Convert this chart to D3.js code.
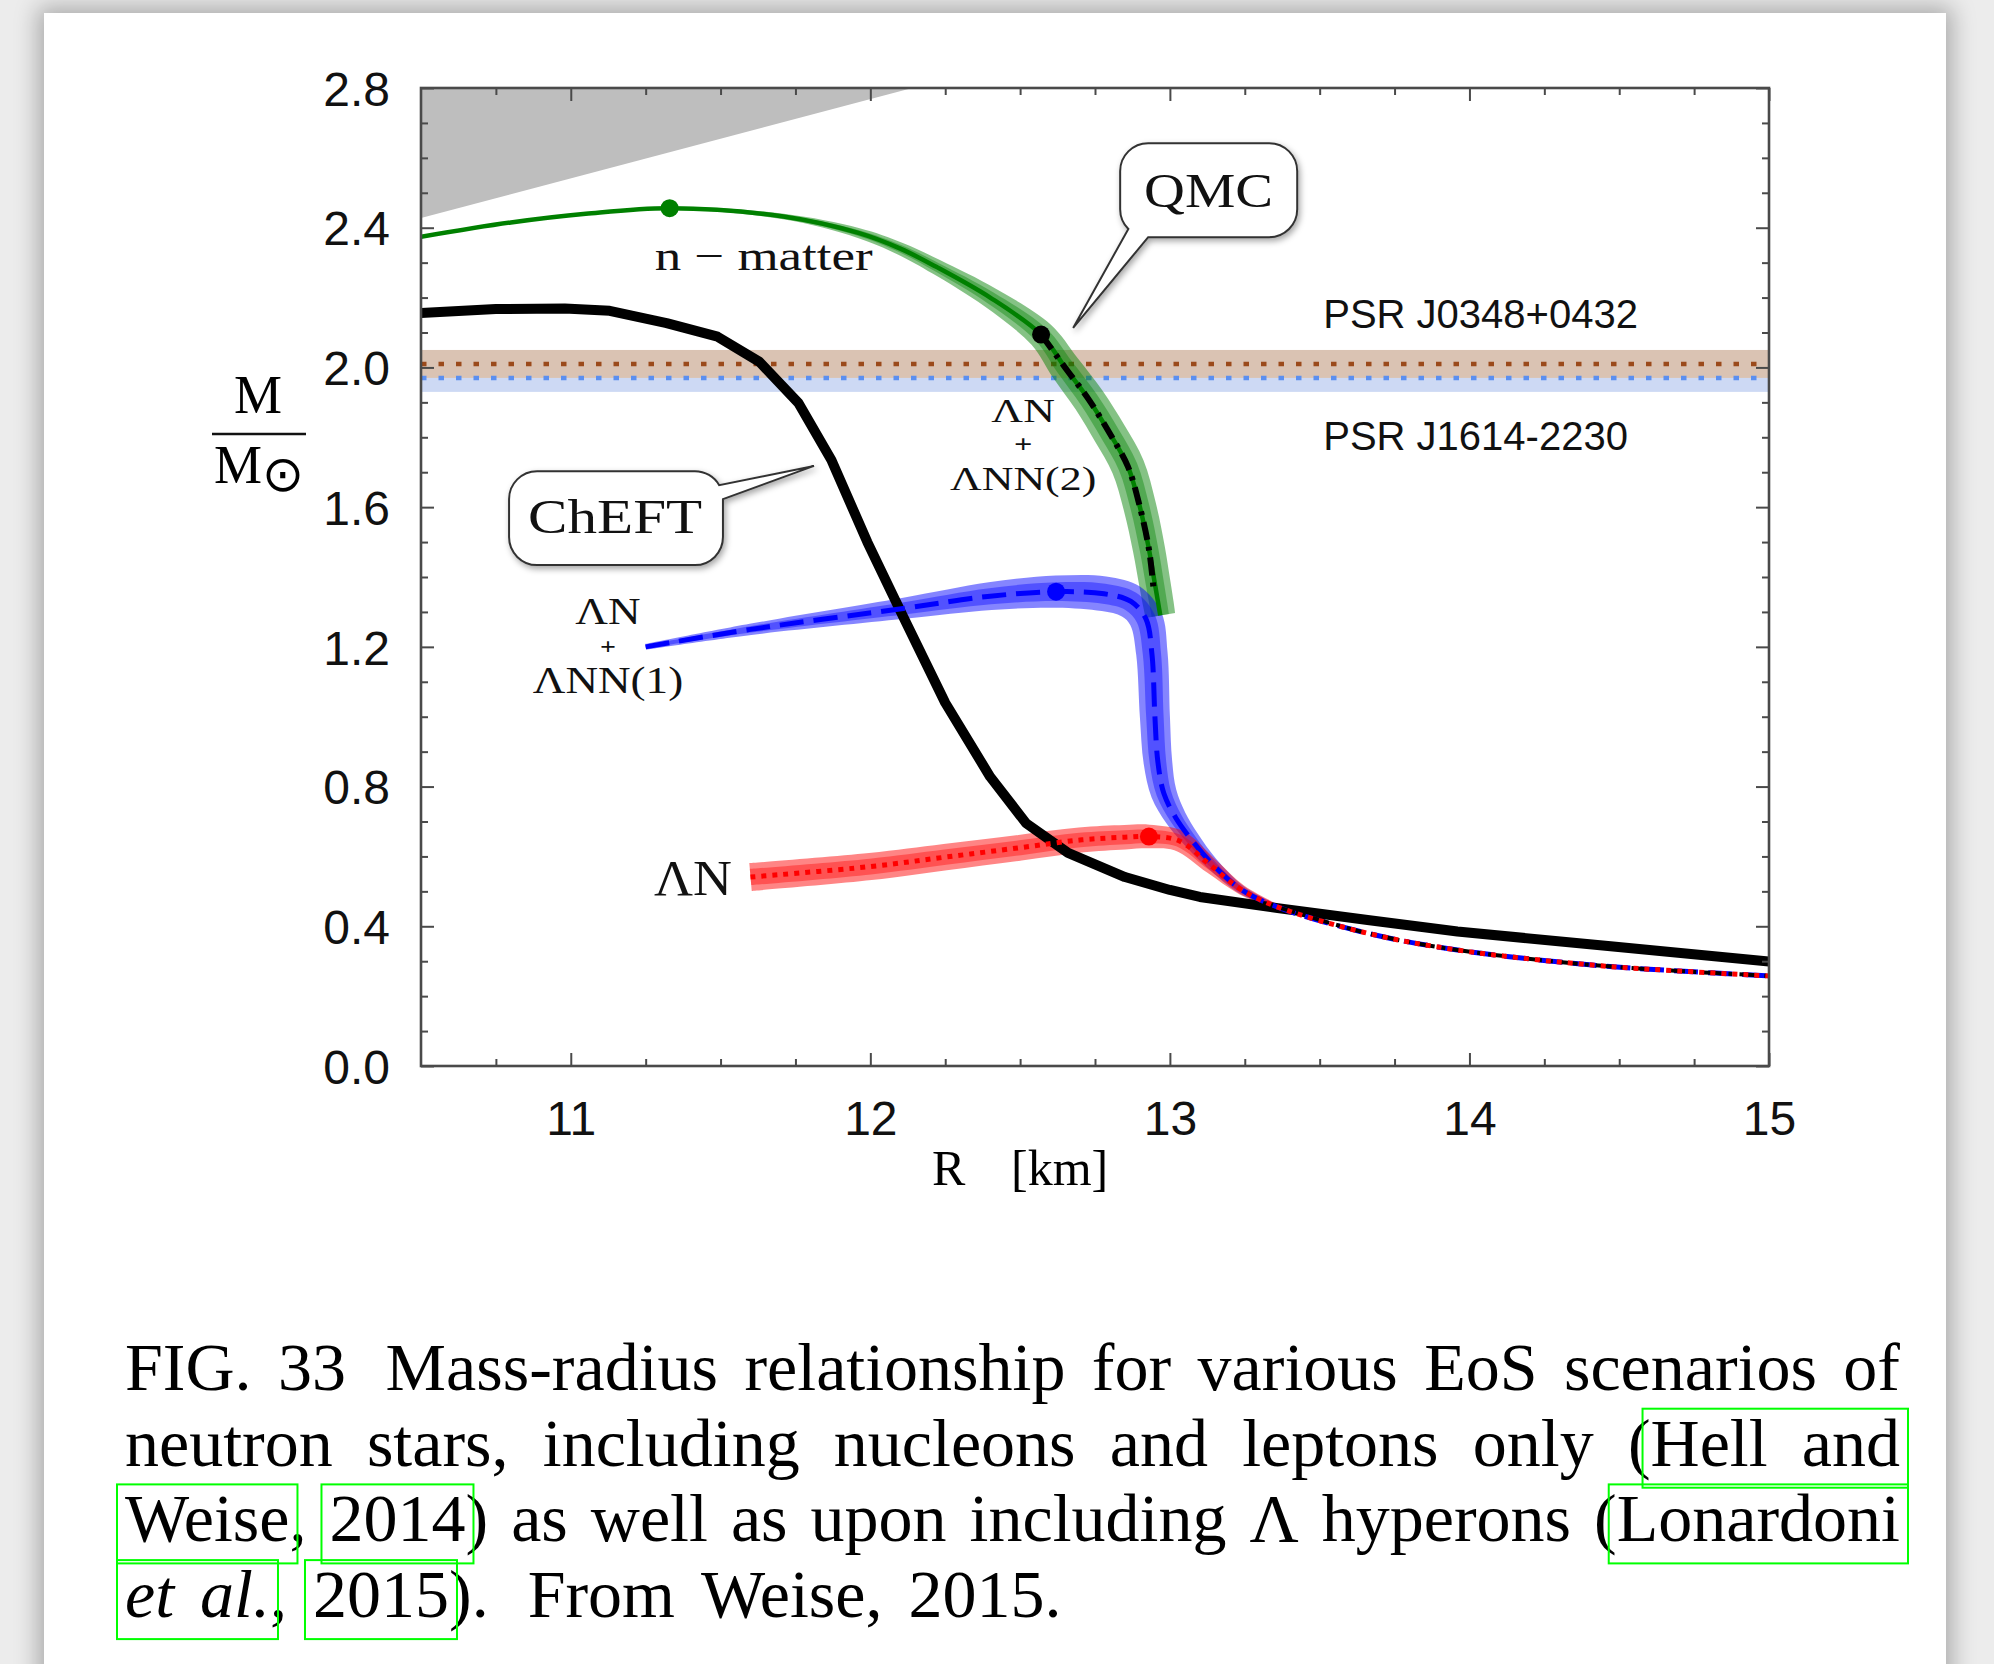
<!DOCTYPE html>
<html><head><meta charset="utf-8">
<script src="https://cdn.jsdelivr.net/npm/d3@7"></script>
<style>
html,body{margin:0;padding:0;width:1994px;height:1664px;overflow:hidden;background:#ececec;}
#card{position:absolute;left:44px;top:13px;width:1902px;height:1720px;background:#fff;box-shadow:0 0 22px 6px rgba(0,0,0,0.28);}
svg{position:absolute;left:0;top:0;}
</style></head>
<body><div id="card"></div><svg id="chart" width="1994" height="1664"></svg>
<script>
// ---------------- data ----------------
const xTickValues = [11, 12, 13, 14, 15];
const xTickLabels = ["11", "12", "13", "14", "15"];
const yTickValues = [0, 0.4, 0.8, 1.2, 1.6, 2.0, 2.4, 2.8];
const yTickLabels = ["0.0", "0.4", "0.8", "1.2", "1.6", "2.0", "2.4", "2.8"];

// causality-excluded region (upper left)
const causalR = [10.5, 12.14];
const causalM = [2.428, 2.8];

// pulsar mass constraints
const psrNames = ["PSR J0348+0432", "PSR J1614-2230"];
const psrMass = [2.01, 1.97];
const psrErr = [0.04, 0.04];

// ChEFT (black)
const chiR = [10.5, 10.75, 10.98, 11.13, 11.32, 11.49, 11.63, 11.76, 11.87, 11.99, 12.11, 12.25, 12.40, 12.52, 12.66, 12.85, 13.0, 13.1, 13.36, 13.66, 13.96, 14.48, 15.0];
const chiM = [2.156, 2.167, 2.169, 2.162, 2.127, 2.088, 2.016, 1.898, 1.735, 1.50, 1.286, 1.04, 0.828, 0.695, 0.61, 0.541, 0.504, 0.484, 0.452, 0.418, 0.385, 0.342, 0.299];

// QMC n-matter (green) with uncertainty band (solar masses)
const nmR = [10.5, 10.8, 11.05, 11.33, 11.71, 11.96, 12.1, 12.22, 12.40, 12.57, 12.65, 12.73, 12.8, 12.86, 12.9, 12.93, 12.95, 12.962, 12.968];
const nmM = [2.374, 2.415, 2.44, 2.456, 2.432, 2.385, 2.34, 2.288, 2.20, 2.094, 2.0, 1.907, 1.81, 1.716, 1.6, 1.48, 1.38, 1.32, 1.29];
const nmErr = [0, 0, 0.002, 0.004, 0.008, 0.014, 0.018, 0.022, 0.03, 0.04, 0.045, 0.047, 0.048, 0.048, 0.047, 0.046, 0.045, 0.044, 0.043];

// Lambda N + Lambda NN (2) (black dash-dot), upper branch
const h2R = [12.57, 12.65, 12.73, 12.8, 12.86, 12.9, 12.93, 12.945];
const h2M = [2.094, 2.0, 1.907, 1.81, 1.716, 1.6, 1.48, 1.37];

// Lambda N + Lambda NN (1) (blue)
const h1R = [11.25, 11.6, 12.11, 12.4, 12.62, 12.78, 12.87, 12.92, 12.94, 12.95, 12.96, 12.98, 13.02, 13.07, 13.14, 13.24, 13.36];
const h1M = [1.20, 1.25, 1.31, 1.345, 1.358, 1.352, 1.33, 1.28, 1.18, 1.0, 0.87, 0.78, 0.71, 0.65, 0.58, 0.504, 0.455];
const h1Err = [0.008, 0.016, 0.03, 0.04, 0.046, 0.05, 0.05, 0.048, 0.045, 0.043, 0.041, 0.037, 0.031, 0.025, 0.018, 0.012, 0.006];

// Lambda N (red)
const lnR = [11.6, 12.0, 12.25, 12.5, 12.7, 12.85, 12.93, 13.03, 13.14, 13.24, 13.36];
const lnM = [0.541, 0.571, 0.598, 0.625, 0.647, 0.655, 0.657, 0.645, 0.571, 0.504, 0.455];
const lnErr = [0.04, 0.039, 0.038, 0.037, 0.036, 0.035, 0.034, 0.03, 0.022, 0.014, 0.007];

// common low-mass branch of the hyperon curves
const tailR = [13.36, 13.66, 13.96, 14.41, 14.7, 15.0];
const tailM = [0.455, 0.38, 0.332, 0.289, 0.272, 0.258];

// maximum-mass markers
const markR = [11.33, 12.57, 12.62, 12.93];
const markM = [2.456, 2.094, 1.358, 0.657];

const captionLines = [
  "FIG. 33  Mass-radius relationship for various EoS scenarios of",
  "neutron stars, including nucleons and leptons only ({a|Hell} {a|and}",
  "{b|Weise}, {c|2014}) as well as upon including \u039B hyperons ({d|Lonardoni}",
  "{e_|et} {e_|al.}, {f|2015}).  From Weise, 2015."
];

// ---------------- layout ----------------
const plot = {left: 421, right: 1769, top: 88, bottom: 1066};
const serif = "'Liberation Serif','Times New Roman',serif";
const sans = "'Liberation Sans',Arial,Helvetica,sans-serif";

const x = d3.scaleLinear().domain([10.5, 15]).range([plot.left, plot.right]);
const y = d3.scaleLinear().domain([0, 2.8]).range([plot.bottom, plot.top]);

const svg = d3.select("#chart");
const defs = svg.append("defs");
defs.append("clipPath").attr("id", "plotClip").append("rect")
  .attr("x", plot.left).attr("y", plot.top)
  .attr("width", plot.right - plot.left).attr("height", plot.bottom - plot.top);
const sh = defs.append("filter").attr("id", "shadow")
  .attr("x", "-20%").attr("y", "-20%").attr("width", "150%").attr("height", "150%");
sh.append("feDropShadow").attr("dx", 2).attr("dy", 3).attr("stdDeviation", 3)
  .attr("flood-color", "#000").attr("flood-opacity", 0.35);

const g = svg.append("g").attr("clip-path", "url(#plotClip)");

const zip = (R, M) => R.map((r, i) => [r, M[i]]);
const px = (R, M) => R.map((r, i) => [x(r), y(M[i])]);
const smooth = d3.line().curve(d3.curveCatmullRom.alpha(0.5));
const straight = d3.line();

function bandPath(R, M, E, frac) {
  const pts = px(R, M);
  const left = [], right = [];
  for (let i = 0; i < pts.length; i++) {
    const a = pts[Math.max(0, i - 1)], b = pts[Math.min(pts.length - 1, i + 1)];
    let tx = b[0] - a[0], ty = b[1] - a[1];
    const L = Math.hypot(tx, ty) || 1; tx /= L; ty /= L;
    const nx = -ty, ny = tx;
    const h = (y(0) - y(E[i])) * frac;
    left.push([pts[i][0] + nx * h, pts[i][1] + ny * h]);
    right.push([pts[i][0] - nx * h, pts[i][1] - ny * h]);
  }
  return smooth(left) + smooth(right.reverse()).replace(/^M/, "L") + "Z";
}

// causality region
g.append("path")
  .attr("d", d3.area().x(d => x(d[0])).y0(y(2.8)).y1(d => y(d[1]))(zip(causalR, causalM)))
  .attr("fill", "#bebebe");

// pulsar bands
const psrFill = ["#dac3b3", "#cdd9f4"];
const psrDot = ["#9b4a1b", "#5b8ff0"];
[1, 0].forEach(i => {
  g.append("rect").attr("x", plot.left).attr("width", plot.right - plot.left)
    .attr("y", y(psrMass[i] + psrErr[i]))
    .attr("height", y(psrMass[i] - psrErr[i]) - y(psrMass[i] + psrErr[i]))
    .attr("fill", psrFill[i]);
});
[0, 1].forEach(i => {
  g.append("path").attr("d", straight([[x(10.5), y(psrMass[i])], [x(15), y(psrMass[i])]]))
    .attr("stroke", psrDot[i]).attr("stroke-width", 4.5).attr("stroke-dasharray", "5.5,12")
    .attr("fill", "none");
});

// uncertainty bands
const bands = [
  {R: nmR, M: nmM, E: nmErr, c: "0,128,0"},
  {R: h1R, M: h1M, E: h1Err, c: "0,0,255"},
  {R: lnR, M: lnM, E: lnErr, c: "255,0,0"}
];
bands.forEach(b => {
  g.append("path").attr("d", bandPath(b.R, b.M, b.E, 1)).attr("fill", `rgba(${b.c},0.48)`);
  g.append("path").attr("d", bandPath(b.R, b.M, b.E, 0.58)).attr("fill", `rgba(${b.c},0.38)`);
});

// ChEFT
g.append("path").attr("d", straight(px(chiR, chiM)))
  .attr("stroke", "#000").attr("stroke-width", 10).attr("fill", "none")
  .attr("stroke-linejoin", "round");

// n-matter line
g.append("path").attr("d", smooth(px(nmR, nmM)))
  .attr("stroke", "#008000").attr("stroke-width", 4.5).attr("fill", "none");

// hyperon centre lines
const h1Full = px(h1R.concat(tailR.slice(1)), h1M.concat(tailM.slice(1)));
const lnFull = px(lnR.concat(tailR.slice(1)), lnM.concat(tailM.slice(1)));
g.append("path").attr("d", smooth(h1Full))
  .attr("stroke", "#0000ff").attr("stroke-width", 5).attr("stroke-dasharray", "24,10").attr("fill", "none");
g.append("path").attr("d", smooth(px(h2R, h2M)))
  .attr("stroke", "#000").attr("stroke-width", 6).attr("stroke-dasharray", "18,7,4,7").attr("fill", "none");
g.append("path").attr("d", smooth(px(tailR, tailM)))
  .attr("stroke", "#000").attr("stroke-width", 4).attr("stroke-dasharray", "18,7,4,7").attr("fill", "none");
g.append("path").attr("d", smooth(lnFull))
  .attr("stroke", "#ff0000").attr("stroke-width", 5).attr("stroke-dasharray", "5,6").attr("fill", "none");

// markers
const markColor = ["#008000", "#000000", "#0000ff", "#ff0000"];
g.selectAll("circle.mark").data(zip(markR, markM)).join("circle")
  .attr("cx", d => x(d[0])).attr("cy", d => y(d[1])).attr("r", 9)
  .attr("fill", (d, i) => markColor[i]);

// ---------------- axes ----------------
const axisColor = "#4a4a4a";
const xMinor = d3.range(10.75, 15.001, 0.25).filter(v => Math.abs(v - Math.round(v)) > 1e-6);
const yMinor = d3.range(0, 28.5, 1).map(v => v / 10).filter(v => Math.abs(v * 2.5 - Math.round(v * 2.5)) > 1e-6);

function styleAxis(sel) {
  sel.select(".domain").remove();
  sel.selectAll(".tick line").attr("stroke", axisColor).attr("stroke-width", 2);
  sel.attr("font-family", sans).attr("font-size", 48);
  sel.selectAll("text").attr("fill", "#111");
}
svg.append("g").attr("transform", `translate(0,${plot.bottom})`)
  .call(d3.axisBottom(x).tickValues(xTickValues).tickSizeInner(-13).tickSizeOuter(0).tickPadding(35)
    .tickFormat(d => xTickLabels[xTickValues.indexOf(d)])).call(styleAxis);
svg.append("g").attr("transform", `translate(0,${plot.bottom})`)
  .call(d3.axisBottom(x).tickValues(xMinor).tickSizeInner(-7).tickSizeOuter(0).tickFormat("")).call(styleAxis);
svg.append("g").attr("transform", `translate(0,${plot.top})`)
  .call(d3.axisTop(x).tickValues(xTickValues).tickSizeInner(-13).tickSizeOuter(0).tickFormat("")).call(styleAxis);
svg.append("g").attr("transform", `translate(0,${plot.top})`)
  .call(d3.axisTop(x).tickValues(xMinor).tickSizeInner(-7).tickSizeOuter(0).tickFormat("")).call(styleAxis);
const yAx = svg.append("g").attr("transform", `translate(${plot.left},0)`)
  .call(d3.axisLeft(y).tickValues(yTickValues).tickSizeInner(-13).tickSizeOuter(0).tickPadding(31)
    .tickFormat(d => yTickLabels[yTickValues.findIndex(v => Math.abs(v - d) < 1e-9)])).call(styleAxis);
yAx.selectAll("text").attr("dy", "0.36em");
svg.append("g").attr("transform", `translate(${plot.left},0)`)
  .call(d3.axisLeft(y).tickValues(yMinor).tickSizeInner(-7).tickSizeOuter(0).tickFormat("")).call(styleAxis);
svg.append("g").attr("transform", `translate(${plot.right},0)`)
  .call(d3.axisRight(y).tickValues(yTickValues).tickSizeInner(-13).tickSizeOuter(0).tickFormat("")).call(styleAxis);
svg.append("g").attr("transform", `translate(${plot.right},0)`)
  .call(d3.axisRight(y).tickValues(yMinor).tickSizeInner(-7).tickSizeOuter(0).tickFormat("")).call(styleAxis);

svg.append("rect").attr("x", plot.left).attr("y", plot.top)
  .attr("width", plot.right - plot.left).attr("height", plot.bottom - plot.top)
  .attr("fill", "none").attr("stroke", axisColor).attr("stroke-width", 2.6);

// axis titles
svg.append("text").attr("x", 258).attr("y", 413).attr("text-anchor", "middle")
  .attr("font-family", serif).attr("font-size", 54).text("M");
svg.append("line").attr("x1", 212).attr("x2", 306).attr("y1", 434).attr("y2", 434)
  .attr("stroke", "#111").attr("stroke-width", 2.5);
const msun = svg.append("text").attr("x", 214).attr("y", 483)
  .attr("font-family", serif).attr("font-size", 54).text("M");
msun.append("tspan").attr("font-family", "'DejaVu Sans',sans-serif").attr("font-size", 50)
  .attr("dx", 0).attr("dy", 8).text("\u2299");
svg.append("text").attr("x", 932).attr("y", 1185)
  .attr("font-family", serif).attr("font-size", 50).text("R");
svg.append("text").attr("x", 1011).attr("y", 1185)
  .attr("font-family", serif).attr("font-size", 50).text("[km]");

// ---------------- annotations ----------------
function lbl(R, M, txt, size, anchor, len, fam) {
  const t = svg.append("text").attr("x", x(R)).attr("y", y(M))
    .attr("font-family", fam || serif).attr("font-size", size)
    .attr("text-anchor", anchor || "start").attr("fill", "#111").text(txt);
  if (len) t.attr("textLength", len).attr("lengthAdjust", "spacingAndGlyphs");
  return t;
}
// stacked label: one text element, horizontally widened; the "+" is set smaller
function stack(R, M, lines, size, plusSize, offsets, sx) {
  const t = svg.append("text")
    .attr("transform", `translate(${x(R)},${y(M)}) scale(${sx},1)`)
    .attr("font-family", serif).attr("font-size", size)
    .attr("text-anchor", "middle").attr("fill", "#111");
  lines.forEach((s, i) => t.append("tspan").attr("x", 0).attr("y", offsets[i])
    .attr("font-size", i === 1 ? plusSize : null)
    .attr("font-weight", i === 1 ? "bold" : null).text(s));
}
lbl(11.28, 2.279, "n \u2212 matter", 42, "start", 218);
lbl(13.512, 2.113, psrNames[0], 40, "start", null, sans);
lbl(13.512, 1.764, psrNames[1], 40, "start", null, sans);
stack(12.51, 1.844, ["\u039BN", "+", "\u039BNN(2)"], 34, 25, [0, 31, 68], 1.29);
stack(11.124, 1.263, ["\u039BN", "+", "\u039BNN(1)"], 37, 23, [-1, 29, 68], 1.22);
lbl(11.278, 0.490, "\u039BN", 50, "start", 78);

// callout boxes
function callout(L, T, Rt, B, r, side, tip) {
  const c = 0.7071, s = 0.5, k = 0.866;
  let d;
  if (side === "bottomleft") {
    d = `M${L + r},${T} H${Rt - r} A${r},${r} 0 0 1 ${Rt},${T + r} V${B - r} A${r},${r} 0 0 1 ${Rt - r},${B}` +
        ` H${L + r} L${tip[0]},${tip[1]} L${L + r - r * c},${B - r + r * c} A${r},${r} 0 0 1 ${L},${B - r}` +
        ` V${T + r} A${r},${r} 0 0 1 ${L + r},${T} Z`;
  } else {
    d = `M${L + r},${T} H${Rt - r} A${r},${r} 0 0 1 ${Rt - r + r * k},${T + r - r * s} L${tip[0]},${tip[1]}` +
        ` L${Rt},${T + r} V${B - r} A${r},${r} 0 0 1 ${Rt - r},${B} H${L + r} A${r},${r} 0 0 1 ${L},${B - r}` +
        ` V${T + r} A${r},${r} 0 0 1 ${L + r},${T} Z`;
  }
  svg.append("path").attr("d", d).attr("fill", "#fff").attr("stroke", "#333")
    .attr("stroke-width", 2).attr("filter", "url(#shadow)");
}
callout(x(12.834), y(2.642), x(13.425), y(2.373), 28, "bottomleft", [x(12.677), y(2.113)]);
lbl(13.129, 2.459, "QMC", 48, "middle", 129);
callout(x(10.794), y(1.703), x(11.508), y(1.434), 28, "topright", [x(11.812), y(1.718)]);
lbl(11.148, 1.526, "ChEFT", 48, "middle", 174);

// ---------------- caption ----------------
const capLeft = 125, capRight = 1900, capBase = 1390, capLead = 75.7, capSize = 68, capSpace = 26;
const cap = svg.append("g").attr("font-family", serif).attr("font-size", capSize).attr("fill", "#000");
const linkBoxes = {};
captionLines.forEach((line, li) => {
  const base = capBase + li * capLead;
  const raw = line.split(" ");
  const words = [], weights = [];
  raw.forEach(w => {
    if (w === "") { weights[weights.length - 1] += 0.5; return; }
    const pieces = [];
    const re = /\{([a-z])(_?)\|([^}]*)\}|([^{]+)/g;
    let m;
    while ((m = re.exec(w)) !== null) {
      if (m[4] !== undefined) pieces.push({t: m[4]});
      else pieces.push({t: m[3], link: m[1], it: m[2] === "_"});
    }
    words.push(pieces.map(p => {
      const t = cap.append("text").attr("y", base).attr("font-style", p.it ? "italic" : null).text(p.t);
      return {p, t, w: t.node().getComputedTextLength()};
    }));
    weights.push(1);
  });
  const total = d3.sum(words, ws => d3.sum(ws, d => d.w));
  const gw = d3.sum(weights.slice(0, words.length - 1));
  const justify = li < captionLines.length - 1;
  const gap = justify ? (capRight - capLeft - total) / gw : capSpace;
  let cx = capLeft;
  words.forEach((ws, wi) => {
    ws.forEach(d => {
      d.t.attr("x", cx);
      if (d.p.link) {
        const key = d.p.link;
        if (!linkBoxes[key]) linkBoxes[key] = {x0: cx, x1: cx + d.w, base};
        else linkBoxes[key].x1 = cx + d.w;
      }
      cx += d.w;
    });
    cx += gap * weights[wi];
  });
});
Object.values(linkBoxes).forEach(b => {
  svg.append("rect").attr("x", b.x0 - 8).attr("y", b.base - 57)
    .attr("width", b.x1 - b.x0 + 16).attr("height", 79)
    .attr("fill", "none").attr("stroke", "#00ff00").attr("stroke-width", 2);
});
</script>
</body></html>
